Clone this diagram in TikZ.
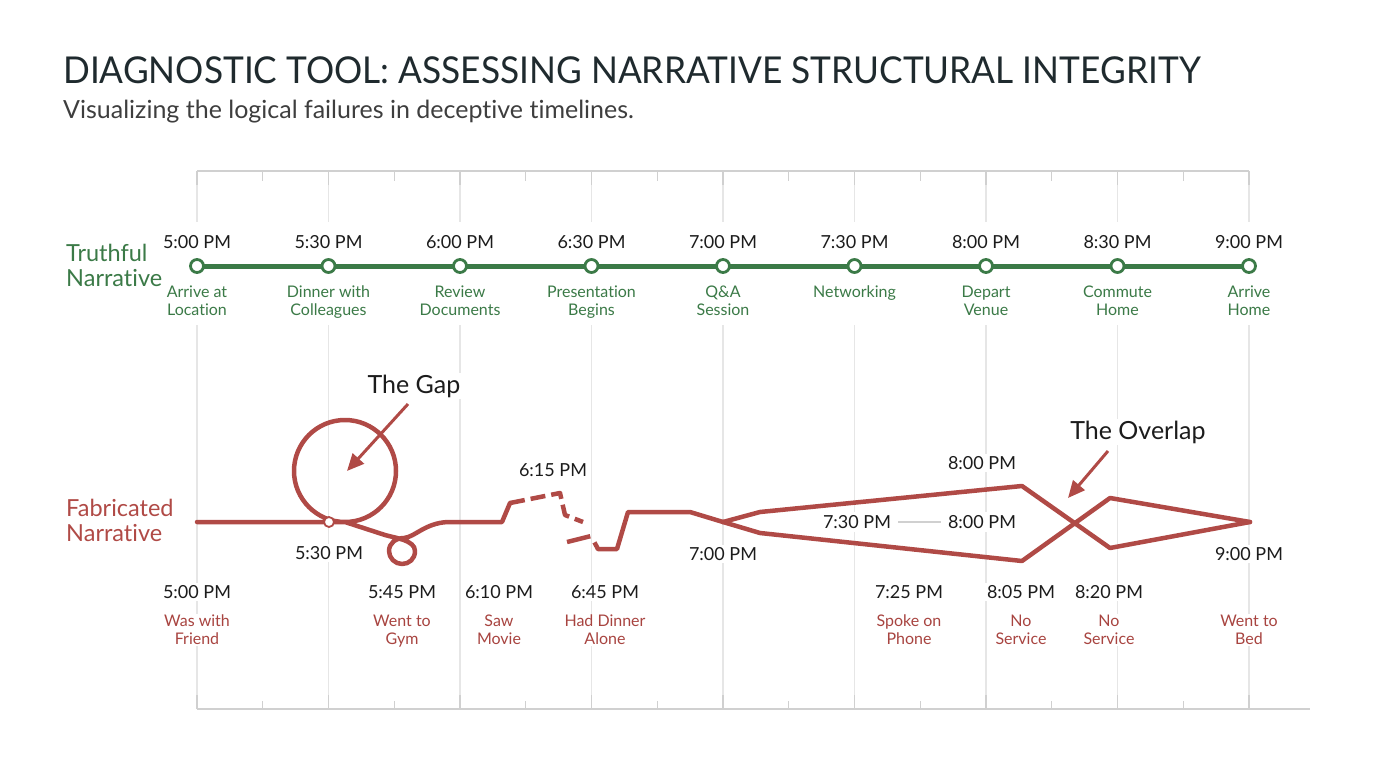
\documentclass[tikz,border=0pt]{standalone}
\usepackage{fontspec}
\setmainfont[Ligatures=NoCommon]{Lato}
\newfontfamily\titlefont[FakeStretch=0.953,Ligatures=NoCommon]{Lato}
\usetikzlibrary{arrows.meta}
\definecolor{tgreen}{HTML}{3B7A47}
\definecolor{fred}{HTML}{B04A46}
\definecolor{fredtxt}{HTML}{A84440}
\definecolor{ink}{HTML}{1C1C1C}
\definecolor{titleink}{HTML}{1F2A2E}
\definecolor{gridc}{HTML}{E6E6E6}
\definecolor{axisc}{HTML}{D0D0D0}
\begin{document}
\begin{tikzpicture}[x=1pt,y=-1pt,
  titletext/.style={anchor=base west, inner sep=0, text=titleink, font=\titlefont\fontsize{37}{40}\selectfont},
  subtext/.style={anchor=base west, inner sep=0, text=ink!85, font=\fontsize{25}{28}\selectfont},
  rowlbl/.style={anchor=west, inner sep=0, align=left, font=\fontsize{23.5}{25}\selectfont},
  timelbl/.style={fill=white, inner sep=2pt, text=ink, font=\fontsize{18}{19}\selectfont},
  tdesc/.style={fill=white, inner sep=1pt, align=center, text=tgreen, font=\fontsize{16}{18}\selectfont},
  fdesc/.style={fill=white, inner sep=1pt, align=center, text=fredtxt, font=\fontsize{16}{18}\selectfont},
  callout/.style={fill=white, inner sep=2pt, text=ink, font=\fontsize{25}{27}\selectfont},
  truthline/.style={draw=tgreen, line width=5pt},
  tdot/.style={circle, draw=tgreen, fill=white, line width=2.8pt, minimum size=13pt, inner sep=0},
  fabline/.style={draw=fred, line width=4.5pt, line join=round, line cap=round},
  fabdash/.style={fabline, line cap=butt, dash pattern=on 15pt off 6pt},
  arrowline/.style={draw=fred, line width=3pt, -{Triangle[length=17pt,width=15pt]}},
  gridline/.style={draw=gridc, line width=1.2pt},
  tickline/.style={draw=axisc, line width=1.3pt}]
\useasboundingbox (0,0) rectangle (1376,768);

% title
\node[titletext] (title) at (63,84) {DIAGNOSTIC TOOL: ASSESSING NARRATIVE STRUCTURAL INTEGRITY};
\node[subtext] (subtitle) at (63,118) {Visualizing the logical failures in deceptive timelines.};

% grid
\foreach \k in {0,...,8} {
  \pgfmathsetmacro\xx{197+131.5*\k}
  \draw[gridline] (\xx,171) -- (\xx,222);
  \draw[gridline] (\xx,325) -- (\xx,709);
  \draw[tickline] (\xx,171) -- (\xx,185);
  \draw[tickline] (\xx,695) -- (\xx,709);
}
\foreach \k in {0,...,7} {
  \pgfmathsetmacro\xx{262.75+131.5*\k}
  \draw[tickline] (\xx,171) -- (\xx,181);
  \draw[tickline] (\xx,701) -- (\xx,709);
}
\draw[tickline] (197,171) -- (1249,171);
\draw[tickline] (197,709) -- (1310,709);

% row labels
\node[rowlbl, text=tgreen] (truthlbl) at (66,265) {Truthful\\Narrative};
\node[rowlbl, text=fred] (fablbl) at (66,520) {Fabricated\\Narrative};

% truthful timeline
\coordinate (ts) at (197,266);
\coordinate (te) at (1249,266);
\draw[truthline] (ts) -- (te);
\foreach \k/\t/\d in {0/5:00 PM/Arrive at\\Location, 1/5:30 PM/Dinner with\\Colleagues, 2/6:00 PM/Review\\Documents, 3/6:30 PM/Presentation\\Begins, 4/7:00 PM/Q\&A\\Session, 5/7:30 PM/Networking, 6/8:00 PM/Depart\\Venue, 7/8:30 PM/Commute\\Home, 8/9:00 PM/Arrive\\Home} {
  \pgfmathsetmacro\xx{197+131.5*\k}
  \node[tdot] (t\k) at (\xx,266) {};
  \node[timelbl] (tt\k) at (\xx,242) {\t};
  \node[tdesc, anchor=north] (td\k) at (\xx,285) {\d};
}

% fabricated timeline
\coordinate (f0) at (197,522);
\coordinate (loopbot) at (345,522);
\coordinate (curlin) at (385,535);
\coordinate (f1) at (502,522);
\coordinate (f2) at (510,503);
\draw[fabline] (f0) -- (loopbot) arc[start angle=90, end angle=-270, radius=51]
  -- (curlin) .. controls (395,538) and (415,540) .. (415,551)
  .. controls (415,559) and (409,564) .. (402,564)
  .. controls (395,564) and (389,558) .. (389,551)
  .. controls (389,543) and (396,538) .. (404,538)
  .. controls (415,537) and (425,523) .. (448,522) -- (f1) -- (f2);
\draw[fabdash] (f2) -- (560,493) -- (565,515) -- (583,522);
\draw[fabline, line cap=butt, dash pattern=on 24pt off 8pt] (567,542) -- (591,536) -- (598,549);
\coordinate (f3) at (598,549);
\coordinate (f7) at (723,522);
\draw[fabline] (f3) -- (617,549) -- (628,512) -- (690,512) -- (f7);
\coordinate (f9) at (1250,522);
\draw[fabline] (f7) -- (760,512) -- (1022,486) -- (1110,548) -- (f9);
\draw[fabline] (f7) -- (760,533) -- (1022,561) -- (1110,498) -- (f9);
\node[circle, draw=fred, fill=white, line width=1.8pt, minimum size=10pt, inner sep=0] (m530) at (329,522) {};

% fabricated labels on line
\node[timelbl] (l530) at (329,553) {5:30 PM};
\node[timelbl] (l615) at (553,470) {6:15 PM};
\node[timelbl] (l700) at (723,554) {7:00 PM};
\node[timelbl] (l800a) at (982,463) {8:00 PM};
\node[timelbl, inner sep=3pt] (l730) at (857,522) {7:30 PM};
\node[timelbl, inner sep=3pt] (l800b) at (982,522) {8:00 PM};
\node[timelbl] (l900) at (1249,554) {9:00 PM};
\draw[draw=axisc, line width=1.2pt] (l730.east) ++(4,0) -- ([xshift=-4pt]l800b.west);

% bottom labels
\foreach \n/\xx/\t/\d in {a/197/5:00 PM/Was with\\Friend, b/402/5:45 PM/Went to\\Gym, c/499/6:10 PM/Saw\\Movie, d/605/6:45 PM/Had Dinner\\Alone, e/909/7:25 PM/Spoke on\\Phone, f/1021/8:05 PM/No\\Service, g/1109/8:20 PM/No\\Service} {
  \node[timelbl] (bt\n) at (\xx,592) {\t};
  \node[fdesc, anchor=north] (bd\n) at (\xx,614) {\d};
}
\node[fdesc, anchor=north] (bdh) at (1249,614) {Went to\\Bed};

% callouts
\node[callout] (gap) at (414,386) {The Gap};
\coordinate (gapA) at (408,404);
\coordinate (gapB) at (347,471);
\draw[arrowline] (gapA) -- (gapB);
\node[callout] (overlap) at (1138,432) {The Overlap};
\coordinate (ovA) at (1108,451);
\coordinate (ovB) at (1068,498);
\draw[arrowline] (ovA) -- (ovB);
\end{tikzpicture}
\end{document}
